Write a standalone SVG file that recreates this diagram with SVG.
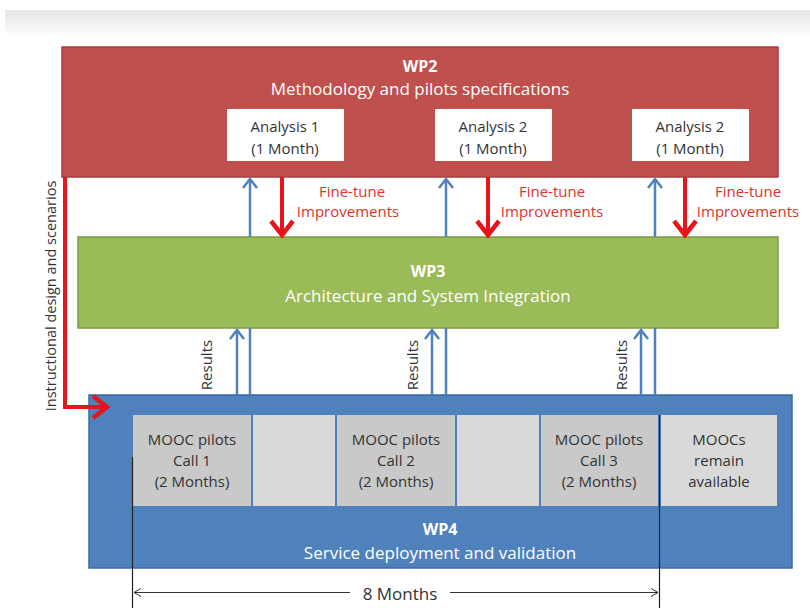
<svg xmlns="http://www.w3.org/2000/svg" width="810" height="608" viewBox="0 0 810 608">
<defs>
<linearGradient id="topband" x1="0" y1="0" x2="0" y2="1">
<stop offset="0" stop-color="#e6e6e6"/>
<stop offset="1" stop-color="#fafafa"/>
</linearGradient>
<marker id="bluehead" markerUnits="userSpaceOnUse" markerWidth="20" markerHeight="20" refX="10" refY="10" orient="auto">
<polyline points="1,3 10,10 1,17" fill="none" stroke="#4f81bd" stroke-width="2.5"/>
</marker>
<marker id="redhead" markerUnits="userSpaceOnUse" markerWidth="30" markerHeight="30" refX="17" refY="15" orient="auto">
<polyline points="3,4 17,15 3,26" fill="none" stroke="#e8141b" stroke-width="4.5"/>
</marker>
<marker id="dimhead" markerUnits="userSpaceOnUse" markerWidth="12" markerHeight="12" refX="10" refY="6" orient="auto">
<polyline points="3,2 10,6 3,10" fill="none" stroke="#333" stroke-width="1"/>
</marker>
</defs>
<style>
text{font-family:"Open Sans","Noto Sans","Liberation Sans",sans-serif;font-size:15px;text-anchor:middle}
.wt{fill:#ffffff;font-size:17px}
.wb{fill:#ffffff;font-weight:bold;font-size:16px}
.dk{fill:#333333}
.big{font-size:17px}
.side{font-size:14.5px}
.rd{fill:#e0312d}
.blue{stroke:#4f81bd;stroke-width:2.5;fill:none}
.red{stroke:#e8141b;stroke-width:4;fill:none}
.cellA{fill:#c9c9c9}
.cellB{fill:#d9d9d9}
</style>
<rect x="0" y="0" width="810" height="608" fill="#ffffff"/>
<rect x="5" y="10" width="805" height="23" fill="url(#topband)"/>

<g id="wp2">
<rect x="62" y="47" width="716" height="130" fill="#c0504d" stroke="#a53f3c" stroke-width="1.5"/>
<text class="wb" x="420" y="72">WP2</text>
<text class="wt" x="420" y="95">Methodology and pilots specifications</text>
</g>
<g id="analysis1">
<rect x="227" y="109" width="117" height="52" fill="#ffffff"/>
<text class="dk" x="285" y="132">Analysis 1</text>
<text class="dk" x="285" y="154">(1 Month)</text>
</g>
<g id="analysis2a">
<rect x="435" y="109" width="117" height="52" fill="#ffffff"/>
<text class="dk" x="493" y="132">Analysis 2</text>
<text class="dk" x="493" y="154">(1 Month)</text>
</g>
<g id="analysis2b">
<rect x="632" y="109" width="117" height="52" fill="#ffffff"/>
<text class="dk" x="690" y="132">Analysis 2</text>
<text class="dk" x="690" y="154">(1 Month)</text>
</g>

<g id="wp3">
<rect x="78" y="237" width="700" height="91" fill="#9bbb59" stroke="#7d9a41" stroke-width="1.5"/>
<text class="wb" x="428" y="277">WP3</text>
<text class="wt" x="428" y="302">Architecture and System Integration</text>
</g>

<g id="wp4">
<rect x="89" y="395" width="703" height="173" fill="#4f81bd" stroke="#3b6aa3" stroke-width="1.5"/>
<text class="wb" x="440" y="535">WP4</text>
<text class="wt" x="440" y="559">Service deployment and validation</text>
</g>
<g id="call1">
<rect class="cellA" x="133" y="415" width="118" height="91"/>
<text class="dk" x="192" y="445">MOOC pilots</text>
<text class="dk" x="192" y="466">Call 1</text>
<text class="dk" x="192" y="487">(2 Months)</text>
</g>
<g id="gap1"><rect class="cellB" x="253" y="415" width="82" height="91"/></g>
<g id="call2">
<rect class="cellA" x="337" y="415" width="118" height="91"/>
<text class="dk" x="396" y="445">MOOC pilots</text>
<text class="dk" x="396" y="466">Call 2</text>
<text class="dk" x="396" y="487">(2 Months)</text>
</g>
<g id="gap2"><rect class="cellB" x="457" y="415" width="82" height="91"/></g>
<g id="call3">
<rect class="cellA" x="541" y="415" width="117" height="91"/>
<text class="dk" x="599" y="445">MOOC pilots</text>
<text class="dk" x="599" y="466">Call 3</text>
<text class="dk" x="599" y="487">(2 Months)</text>
</g>
<g id="remain">
<rect class="cellB" x="661" y="415" width="116" height="91"/>
<text class="dk" x="719" y="445">MOOCs</text>
<text class="dk" x="719" y="466">remain</text>
<text class="dk" x="719" y="487">available</text>
</g>

<g id="connectors">
<line class="blue" x1="250" y1="395" x2="250" y2="328"/>
<line class="blue" x1="250" y1="237" x2="250" y2="179" marker-end="url(#bluehead)"/>
<line class="blue" x1="446" y1="395" x2="446" y2="328"/>
<line class="blue" x1="446" y1="237" x2="446" y2="179" marker-end="url(#bluehead)"/>
<line class="blue" x1="655" y1="395" x2="655" y2="328"/>
<line class="blue" x1="655" y1="237" x2="655" y2="179" marker-end="url(#bluehead)"/>
<line class="blue" x1="237" y1="395" x2="237" y2="330" marker-end="url(#bluehead)"/>
<line class="blue" x1="432" y1="395" x2="432" y2="330" marker-end="url(#bluehead)"/>
<line class="blue" x1="641" y1="395" x2="641" y2="330" marker-end="url(#bluehead)"/>
<line class="red" x1="282" y1="177" x2="282" y2="235" marker-end="url(#redhead)"/>
<line class="red" x1="488" y1="177" x2="488" y2="235" marker-end="url(#redhead)"/>
<line class="red" x1="685" y1="177" x2="685" y2="235" marker-end="url(#redhead)"/>
<polyline class="red" points="65,177 65,407 107,407" marker-end="url(#redhead)"/>
<text class="dk side" transform="translate(55.5,296) rotate(-90)">Instructional design and scenarios</text>
<text class="dk" transform="translate(212,365) rotate(-90)">Results</text>
<text class="dk" transform="translate(418,365) rotate(-90)">Results</text>
<text class="dk" transform="translate(627,365) rotate(-90)">Results</text>
<text class="rd" x="352" y="197">Fine-tune</text>
<text class="rd" x="348" y="217">Improvements</text>
<text class="rd" x="552" y="197">Fine-tune</text>
<text class="rd" x="552" y="217">Improvements</text>
<text class="rd" x="748" y="197">Fine-tune</text>
<text class="rd" x="748" y="217">Improvements</text>
</g>

<g id="dimension">
<line x1="132.5" y1="457" x2="132.5" y2="608" stroke="#222" stroke-width="1.2"/>
<line x1="659.5" y1="415" x2="659.5" y2="608" stroke="#222" stroke-width="1.2"/>
<line x1="350" y1="592.5" x2="134" y2="592.5" stroke="#333" stroke-width="1" marker-end="url(#dimhead)"/>
<line x1="450" y1="592.5" x2="658" y2="592.5" stroke="#333" stroke-width="1" marker-end="url(#dimhead)"/>
<text class="dk big" x="400" y="600">8 Months</text>
</g>
</svg>
